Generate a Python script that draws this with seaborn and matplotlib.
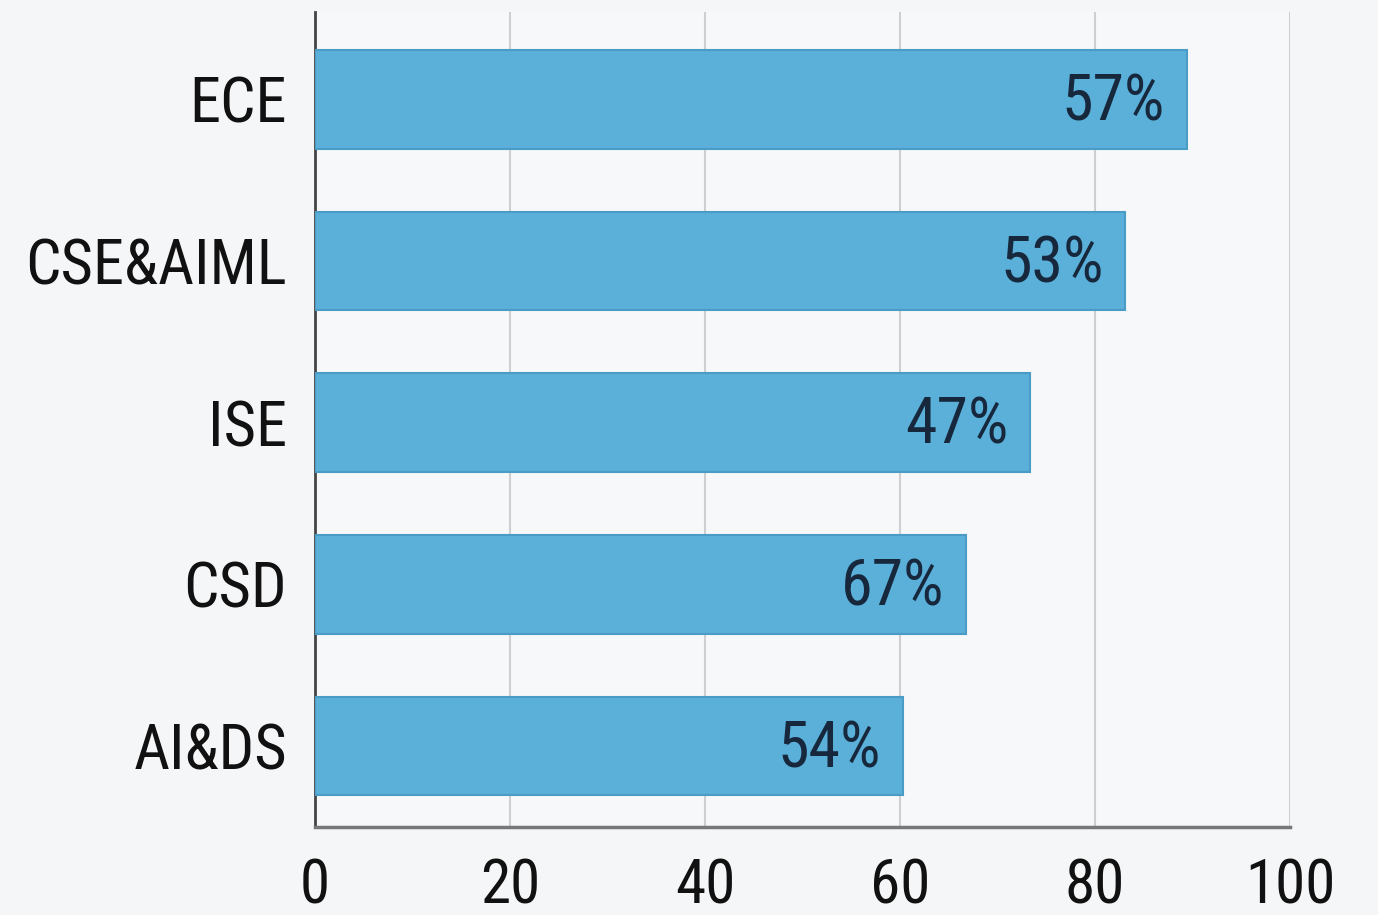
import matplotlib
matplotlib.use("Agg")
import matplotlib.pyplot as plt
import seaborn as sns
import pandas as pd

categories = ["ECE", "CSE&AIML", "ISE", "CSD", "AI&DS"]
values = [89.4, 83.1, 73.3, 66.8, 60.3]
bar_labels = ["57%", "53%", "47%", "67%", "54%"]
xticks = [0, 20, 40, 60, 80, 100]

sns.set_theme(style="white")
plt.rcParams['font.family'] = ['Roboto Condensed', 'Liberation Sans Narrow', 'Roboto', 'DejaVu Sans']

df = pd.DataFrame({"dept": categories, "value": values})

fig = plt.figure(figsize=(13.78, 9.15), dpi=100)
fig.patch.set_facecolor("#F4F6F8")
ax = fig.add_axes([0.2286, 0.0962, 0.9361 - 0.2286, 0.9869 - 0.0962])
ax.set_facecolor("#F6F8FA")

sns.barplot(data=df, y="dept", x="value", orient="h", color="#5AB0D9",
            width=0.61, saturation=1, edgecolor="#4A9CC6", linewidth=1.5, ax=ax, zorder=3)

for patch, lab in zip(ax.patches, bar_labels):
    x_end = patch.get_x() + patch.get_width()
    y_c = patch.get_y() + patch.get_height() / 2
    ax.text(x_end - 2.2, y_c + 0.02, lab, ha="right", va="center", fontsize=46,
            color="#17283d", zorder=4)

ax.set_xlim(0, 100)
ax.set_ylim(4.5, -0.54)
ax.set_xticks(xticks)
ax.set_xticklabels([str(t) for t in xticks])
ax.xaxis.grid(True, color="#CFCFCF", linewidth=1.5, zorder=0)
ax.yaxis.grid(False)
ax.set_xlabel("")
ax.set_ylabel("")
ax.tick_params(axis="x", length=0, pad=22, labelsize=44, labelcolor="#111111")
ax.tick_params(axis="y", length=0, pad=20, labelsize=45, labelcolor="#111111")

for s in ["top", "right"]:
    ax.spines[s].set_visible(False)
ax.spines["left"].set_color("#444444")
ax.spines["left"].set_linewidth(2)
ax.spines["bottom"].set_color("#777777")
ax.spines["bottom"].set_linewidth(2.5)

fig.savefig("out.png", dpi=100, facecolor=fig.get_facecolor())
